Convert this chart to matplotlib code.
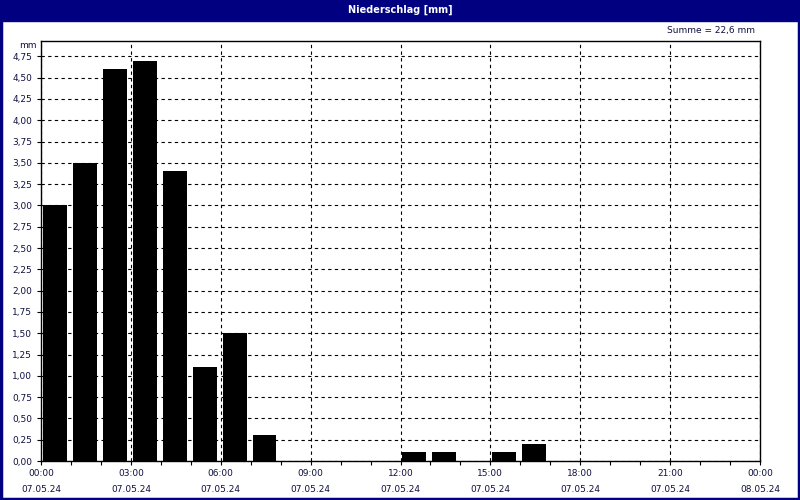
import matplotlib.pyplot as plt
import matplotlib.patches as patches
from matplotlib.ticker import FixedLocator, FuncFormatter, MultipleLocator

# Stundenwerte Niederschlag 07.05.24
hours = [0, 1, 2, 3, 4, 5, 6, 7, 12, 13, 15, 16]
values = [3.0, 3.5, 4.6, 4.7, 3.4, 1.1, 1.5, 0.3, 0.1, 0.1, 0.1, 0.2]
major_hours = [0, 3, 6, 9, 12, 15, 18, 21, 24]
major_labels = ["00:00\n07.05.24", "03:00\n07.05.24", "06:00\n07.05.24",
                "09:00\n07.05.24", "12:00\n07.05.24", "15:00\n07.05.24",
                "18:00\n07.05.24", "21:00\n07.05.24", "00:00\n08.05.24"]
title = "Niederschlag [mm]"
summe = "Summe = 22,6 mm"

navy = "#000080"
txt = "#101040"

fig = plt.figure(figsize=(8, 5), dpi=100)
fig.patch.set_facecolor("white")

# Titelleiste und Rahmen
fig.patches.append(patches.Rectangle((0, 1 - 20.5 / 500), 1, 20.5 / 500,
                                     transform=fig.transFigure, color=navy, zorder=0))
fig.patches.append(patches.Rectangle((0.001, 0.002), 0.998, 0.996, transform=fig.transFigure,
                                     fill=False, edgecolor=navy, linewidth=2.5, zorder=5))
fig.text(0.5, 1 - 10 / 500, title, color="white", ha="center", va="center",
         fontsize=7, fontweight="bold")

ax = fig.add_axes([41 / 800, 39 / 500, 719 / 800, 420 / 500])
ax.bar([h + 0.06 for h in hours], values, width=0.8, align="edge",
       color="black", zorder=3)

ax.set_xlim(0, 24)
ax.set_ylim(0, 4.93)

ax.xaxis.set_major_locator(FixedLocator(major_hours))
ax.set_xticklabels(major_labels)
ax.xaxis.set_minor_locator(MultipleLocator(1))
ax.yaxis.set_major_locator(FixedLocator([i * 0.25 for i in range(20)]))
ax.yaxis.set_major_formatter(FuncFormatter(lambda v, p: f"{v:.2f}".replace(".", ",")))

ax.tick_params(axis="both", which="both", labelsize=6.5, labelcolor=txt,
               length=3, width=0.8, direction="out")
ax.tick_params(axis="x", which="major", pad=3)
ax.tick_params(axis="x", which="minor", length=3)
for lab in ax.get_xticklabels():
    lab.set_linespacing(2.0)

ax.grid(True, which="major", axis="both", color="black", linestyle=(0, (3, 3)),
        linewidth=0.8, zorder=1)
for s in ax.spines.values():
    s.set_linewidth(1.0)

fig.text(37 / 800, 1 - 45 / 500, "mm", color=txt, ha="right", va="center", fontsize=6.5)
fig.text(755 / 800, 1 - 31 / 500, summe, color=txt, ha="right", va="center", fontsize=6.5)

fig.savefig("out.png", dpi=100)
